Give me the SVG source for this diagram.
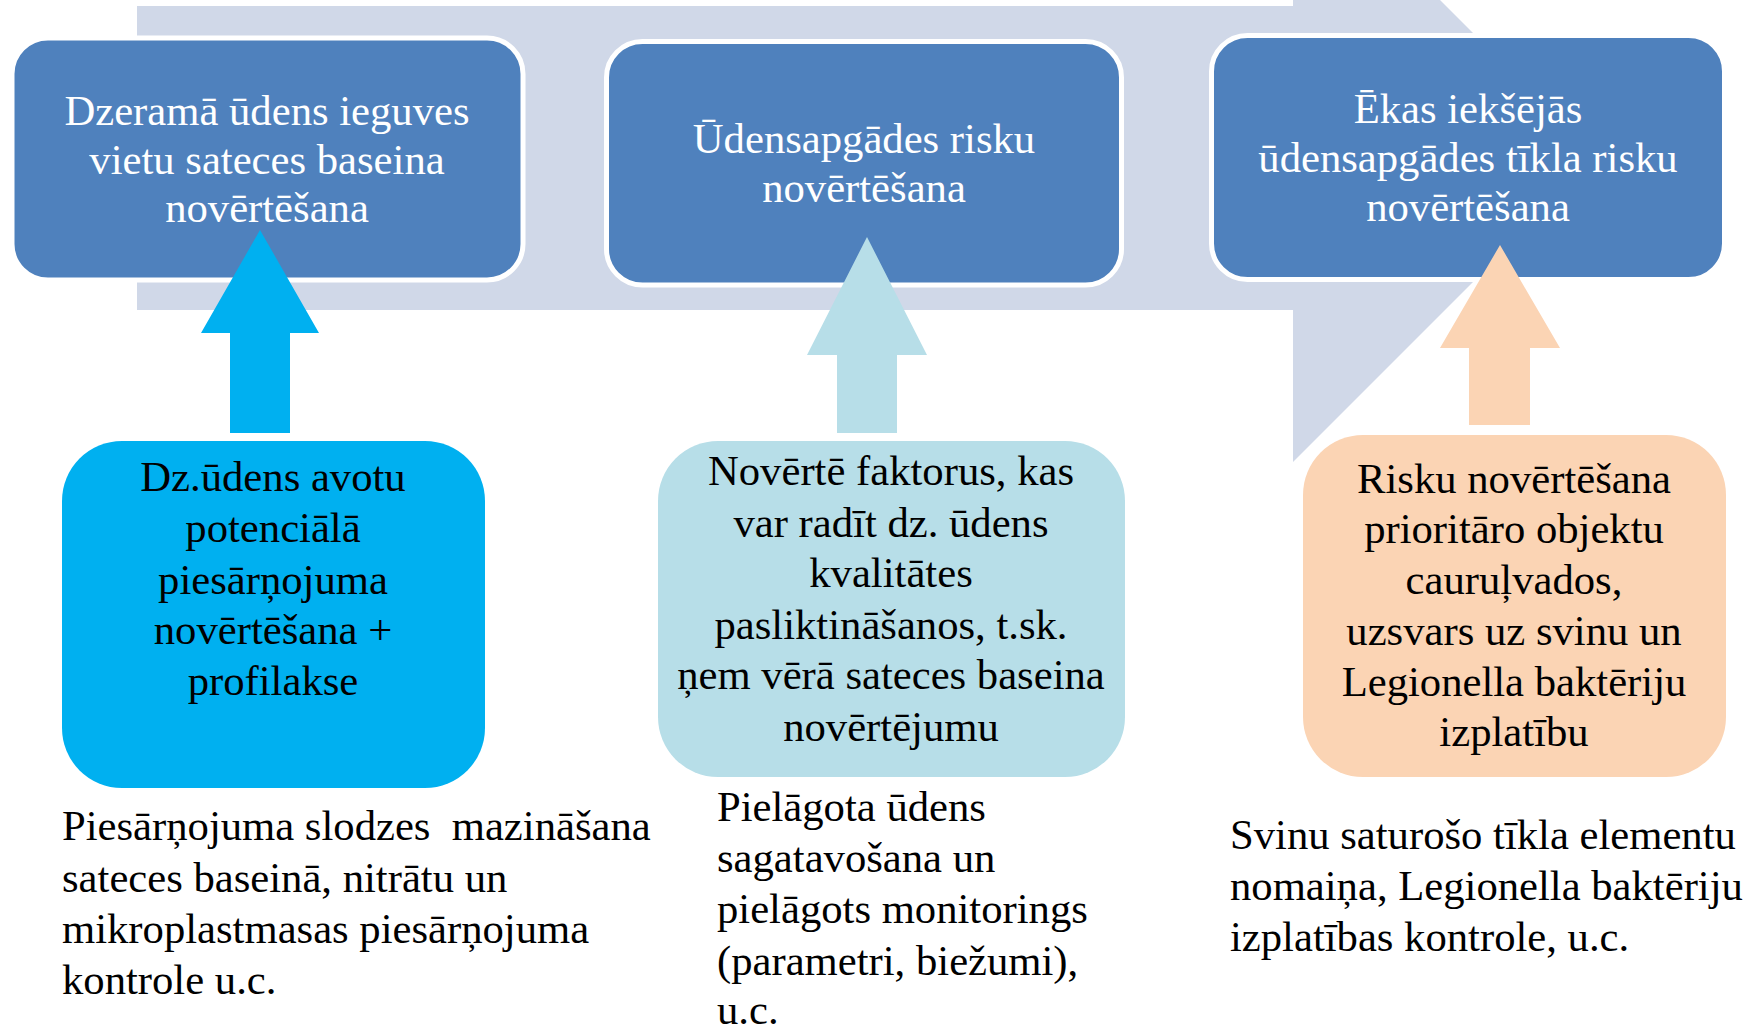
<svg xmlns="http://www.w3.org/2000/svg" width="1757" height="1027" viewBox="0 0 1757 1027">
<style>
text{font-family:"Liberation Serif","Times New Roman",serif;font-size:42.67px;}
.top{fill:#4F81BD;stroke:#FFFFFF;stroke-width:5;}
.wt{fill:#FFFFFF;text-anchor:middle;}
.bk{fill:#000000;text-anchor:middle;}
.lt{fill:#000000;}
</style>
<rect width="1757" height="1027" fill="#FFFFFF"/>
<g id="band">
<path d="M137,6 H1293 V-147 L1597.5,157.5 L1293,462 V310 H137 Z" fill="#D0D8E8"/>
</g>
<g id="node-catchment">
<rect class="top" x="12" y="38" width="511" height="242" rx="36"/>
<text class="wt" x="267" y="125">Dzeramā ūdens ieguves</text>
<text class="wt" x="267" y="174">vietu sateces baseina</text>
<text class="wt" x="267" y="222">novērtēšana</text>
</g>
<g id="node-supply">
<rect class="top" x="606.5" y="41.5" width="515" height="243.5" rx="36"/>
<text class="wt" x="864" y="153">Ūdensapgādes risku</text>
<text class="wt" x="864" y="202">novērtēšana</text>
</g>
<g id="node-building">
<rect class="top" x="1211.5" y="35.5" width="513" height="244" rx="36"/>
<text class="wt" x="1468" y="123">Ēkas iekšējās</text>
<text class="wt" x="1468" y="172">ūdensapgādes tīkla risku</text>
<text class="wt" x="1468" y="221">novērtēšana</text>
</g>
<g id="connectors">
<polygon points="260,230 319,333 290,333 290,433 230,433 230,333 201,333" fill="#00B0F0"/>
<polygon points="867,237 927,355 897,355 897,433 837,433 837,355 807,355" fill="#B7DEE8"/>
<polygon points="1500,245 1560,348 1530,348 1530,425 1469,425 1469,348 1440,348" fill="#FBD4B4"/>
</g>
<g id="node-sources">
<rect x="62" y="441" width="423" height="347" rx="60" fill="#00B0F0"/>
<text class="bk" x="273" y="491">Dz.ūdens avotu</text>
<text class="bk" x="273" y="542">potenciālā</text>
<text class="bk" x="273" y="594">piesārņojuma</text>
<text class="bk" x="273" y="644">novērtēšana +</text>
<text class="bk" x="273" y="695">profilakse</text>
</g>
<g id="node-factors">
<rect x="658" y="441" width="467" height="336" rx="60" fill="#B7DEE8"/>
<text class="bk" x="891" y="485">Novērtē faktorus, kas</text>
<text class="bk" x="891" y="537">var radīt dz. ūdens</text>
<text class="bk" x="891" y="587">kvalitātes</text>
<text class="bk" x="891" y="639">pasliktināšanos, t.sk.</text>
<text class="bk" x="891" y="689">ņem vērā sateces baseina</text>
<text class="bk" x="891" y="741">novērtējumu</text>
</g>
<g id="node-priority">
<rect x="1303" y="435" width="423" height="342" rx="60" fill="#FBD4B4"/>
<text class="bk" x="1514" y="493">Risku novērtēšana</text>
<text class="bk" x="1514" y="543">prioritāro objektu</text>
<text class="bk" x="1514" y="594">cauruļvados,</text>
<text class="bk" x="1514" y="645">uzsvars uz svinu un</text>
<text class="bk" x="1514" y="696">Legionella baktēriju</text>
<text class="bk" x="1514" y="746">izplatību</text>
</g>
<g id="note-left">
<text class="lt" x="62" y="840" xml:space="preserve">Piesārņojuma slodzes  mazināšana</text>
<text class="lt" x="62" y="892">sateces baseinā, nitrātu un</text>
<text class="lt" x="62" y="943">mikroplastmasas piesārņojuma</text>
<text class="lt" x="62" y="994">kontrole u.c.</text>
</g>
<g id="note-middle">
<text class="lt" x="717" y="821">Pielāgota ūdens</text>
<text class="lt" x="717" y="872">sagatavošana un</text>
<text class="lt" x="717" y="923">pielāgots monitorings</text>
<text class="lt" x="717" y="975">(parametri, biežumi),</text>
<text class="lt" x="717" y="1024">u.c.</text>
</g>
<g id="note-right">
<text class="lt" x="1230" y="849">Svinu saturošo tīkla elementu</text>
<text class="lt" x="1230" y="900">nomaiņa, Legionella baktēriju</text>
<text class="lt" x="1230" y="951">izplatības kontrole, u.c.</text>
</g>
</svg>
